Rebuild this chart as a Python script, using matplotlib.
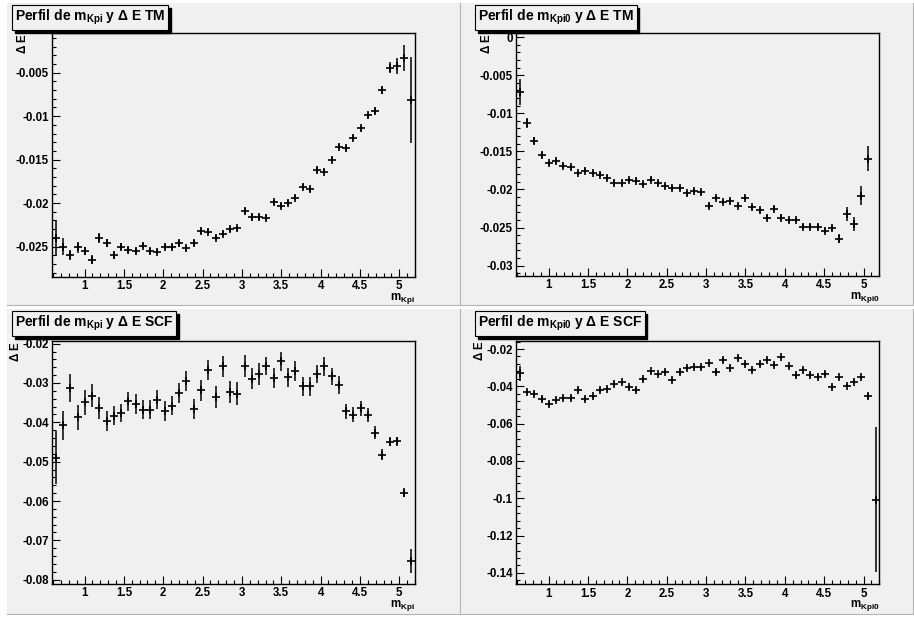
import numpy as np
import matplotlib
matplotlib.use("Agg")
import matplotlib.pyplot as plt
from matplotlib.patches import Rectangle
from matplotlib.ticker import MultipleLocator, FuncFormatter

plt.rcParams['font.family'] = 'Liberation Sans'
plt.rcParams['font.weight'] = 'bold'
plt.rcParams['mathtext.fontset'] = 'custom'
plt.rcParams['mathtext.rm'] = 'Liberation Sans:bold'
plt.rcParams['mathtext.it'] = 'Liberation Sans:bold'
plt.rcParams['mathtext.bf'] = 'Liberation Sans:bold'

# binning of the profiles (50 bins)
x_lo, x_hi, nbins = 0.59, 5.20, 50

# profile of DeltaE vs m_Kpi, truth-matched
tm_kpi = [-0.0240, -0.0250, -0.0260, -0.0251, -0.0255, -0.0265, -0.0240, -0.0246, -0.0260, -0.0250,
          -0.0254, -0.0255, -0.0249, -0.0255, -0.0256, -0.0250, -0.0250, -0.0246, -0.0252, -0.0246,
          -0.0232, -0.0233, -0.0240, -0.0235, -0.0230, -0.0229, -0.0209, -0.0216, -0.0216, -0.0217,
          -0.0199, -0.0203, -0.0200, -0.0194, -0.0181, -0.0184, -0.0162, -0.0164, -0.0150, -0.0135,
          -0.0137, -0.0125, -0.0114, -0.0099, -0.0094, -0.0070, -0.00443, -0.00423, -0.00335, -0.00814]
tm_kpi_err = [0.0021, 0.0010, 0.0006, 0.0006, 0.0005, 0.0005, 0.0006, 0.0005, 0.0004, 0.0004,
              0.0003, 0.0003, 0.0003, 0.0003, 0.0003, 0.0003, 0.0003, 0.0003, 0.0003, 0.0003,
              0.0003, 0.0003, 0.0003, 0.0003, 0.0003, 0.0003, 0.0003, 0.0003, 0.0003, 0.0003,
              0.0003, 0.0003, 0.0003, 0.0003, 0.0003, 0.0003, 0.0003, 0.0003, 0.0003, 0.0003,
              0.0003, 0.0003, 0.0003, 0.0003, 0.0003, 0.0004, 0.0006, 0.0009, 0.0015, 0.0049]

# profile of DeltaE vs m_Kpi0, truth-matched (last bin empty)
tm_kpi0 = [-0.00718, -0.0113, -0.01358, -0.01546, -0.01655, -0.01625, -0.01686, -0.01712, -0.01786, -0.01752,
           -0.01786, -0.01804, -0.01844, -0.0191, -0.0191, -0.01874, -0.01883, -0.01931, -0.0187, -0.01918,
           -0.01953, -0.0198, -0.0198, -0.0205, -0.0202, -0.02037, -0.02212, -0.02111, -0.02164, -0.02155,
           -0.02216, -0.02111, -0.02234, -0.02273, -0.0237, -0.02251, -0.0237, -0.0240, -0.0240, -0.02488,
           -0.02488, -0.02488, -0.0254, -0.0251, -0.02645, -0.02326, -0.02457, -0.0208, -0.01594, np.nan]
tm_kpi0_err = [0.0017, 0.0007, 0.0005, 0.0004, 0.0003, 0.0003, 0.0003, 0.0003, 0.0003, 0.0003,
               0.0003, 0.0003, 0.0003, 0.0003, 0.0003, 0.0003, 0.0003, 0.0003, 0.0003, 0.0003,
               0.0003, 0.0003, 0.0003, 0.0003, 0.0003, 0.0003, 0.0003, 0.0003, 0.0003, 0.0003,
               0.0003, 0.0003, 0.0003, 0.0003, 0.0003, 0.0003, 0.0003, 0.0003, 0.0003, 0.0003,
               0.0003, 0.0003, 0.0003, 0.0003, 0.0006, 0.0009, 0.0009, 0.0013, 0.0016, np.nan]

# profile of DeltaE vs m_Kpi, self-cross-feed
scf_kpi = [-0.0490, -0.0408, -0.0313, -0.0387, -0.0349, -0.0332, -0.0363, -0.0397, -0.0383, -0.0376,
           -0.0347, -0.0354, -0.0368, -0.0368, -0.0342, -0.0372, -0.0358, -0.0325, -0.0295, -0.0366,
           -0.0319, -0.0267, -0.0336, -0.0258, -0.0324, -0.0327, -0.0258, -0.0289, -0.0277, -0.0256,
           -0.0288, -0.0245, -0.0286, -0.0270, -0.0308, -0.0308, -0.0277, -0.0258, -0.0283, -0.0305,
           -0.0372, -0.0381, -0.0364, -0.0381, -0.0426, -0.0482, -0.0449, -0.0448, -0.0579, -0.0752]
scf_kpi_err = [0.0067, 0.0038, 0.0036, 0.0032, 0.0032, 0.0030, 0.0028, 0.0026, 0.0024, 0.0023,
               0.0023, 0.0025, 0.0024, 0.0024, 0.0024, 0.0025, 0.0024, 0.0025, 0.0026, 0.0025,
               0.0027, 0.0025, 0.0028, 0.0027, 0.0028, 0.0029, 0.0028, 0.0027, 0.0027, 0.0023,
               0.0025, 0.0025, 0.0025, 0.0025, 0.0024, 0.0024, 0.0024, 0.0023, 0.0022, 0.0022,
               0.0019, 0.0019, 0.0019, 0.0018, 0.0017, 0.0015, 0.0012, 0.0011, 0.0011, 0.0030]

# profile of DeltaE vs m_Kpi0, self-cross-feed
scf_kpi0 = [-0.0330, -0.0432, -0.0443, -0.0468, -0.0496, -0.0473, -0.0464, -0.0464, -0.0420, -0.0468,
            -0.0454, -0.0420, -0.0416, -0.0389, -0.0379, -0.0405, -0.0420, -0.0361, -0.0320, -0.0336,
            -0.0325, -0.0364, -0.0325, -0.0302, -0.0298, -0.0298, -0.0277, -0.0323, -0.0259, -0.0302,
            -0.0248, -0.0280, -0.0311, -0.0280, -0.0257, -0.0284, -0.0245, -0.0293, -0.0339, -0.0311,
            -0.0339, -0.0348, -0.0334, -0.0405, -0.0352, -0.0396, -0.0375, -0.0352, -0.0454, -0.1007]
scf_kpi0_err = [0.0040, 0.0010, 0.0010, 0.0010, 0.0010, 0.0010, 0.0010, 0.0010, 0.0010, 0.0010,
                0.0010, 0.0010, 0.0010, 0.0010, 0.0010, 0.0010, 0.0010, 0.0010, 0.0010, 0.0010,
                0.0010, 0.0010, 0.0010, 0.0010, 0.0010, 0.0010, 0.0010, 0.0010, 0.0010, 0.0010,
                0.0010, 0.0010, 0.0010, 0.0010, 0.0010, 0.0010, 0.0010, 0.0010, 0.0010, 0.0010,
                0.0010, 0.0010, 0.0010, 0.0010, 0.0010, 0.0010, 0.0010, 0.0010, 0.0015, 0.0390]

titles = [r'Perfil de m$_{\rm Kpi}$ y $\Delta$ E TM', r'Perfil de m$_{\rm Kpi0}$ y $\Delta$ E TM',
          r'Perfil de m$_{\rm Kpi}$ y $\Delta$ E SCF', r'Perfil de m$_{\rm Kpi0}$ y $\Delta$ E SCF']
xlabels = [r'm$_{\rm Kpi}$', r'm$_{\rm Kpi0}$', r'm$_{\rm Kpi}$', r'm$_{\rm Kpi0}$']
ylabel = r'$\Delta$ E'

W, H = 914, 618
fig = plt.figure(figsize=(W / 100, H / 100), dpi=100, facecolor='white')

def px(x0, y0, x1, y1):
    # pixel box (from top-left) -> figure fraction [left, bottom, width, height]
    return [x0 / W, 1 - y1 / H, (x1 - x0) / W, (y1 - y0) / H]

pad_boxes = [(7, 3, 460, 305), (461, 3, 913, 305), (7, 309, 460, 614), (461, 309, 913, 614)]
frame_boxes = [(52.3, 33, 415, 277), (516.3, 33, 879.3, 276),
               (52.3, 341.3, 415, 584), (516.3, 340.7, 879.3, 584.3)]
title_pos = [(15, 8), (478, 8), (15, 314), (478, 314)]
ylims = [(-0.0285, -0.00044), (-0.03136, 0.00053), (-0.0811, -0.0194), (-0.1461, -0.01554)]
ymajor = [0.005, 0.005, 0.01, 0.02]
yminor = [0.001, 0.001, 0.002, 0.004]
ylabel_dx = [-30, -30, -37, -37]

series = [(tm_kpi, tm_kpi_err), (tm_kpi0, tm_kpi0_err), (scf_kpi, scf_kpi_err), (scf_kpi0, scf_kpi0_err)]

edges = np.linspace(x_lo, x_hi, nbins + 1)
centers = 0.5 * (edges[:-1] + edges[1:])

def fmt(v, p):
    if abs(v) < 1e-12:
        return '0'
    return '%g' % round(v, 6)

title_texts = []
for i in range(4):
    x0, y0, x1, y1 = pad_boxes[i]
    b = px(x0, y0, x1, y1)
    fig.patches.append(Rectangle((b[0], b[1]), b[2], b[3], transform=fig.transFigure,
                                 facecolor='#f0f0f0', edgecolor='none', zorder=-5))
    # darker bevel on right and bottom
    fig.lines.append(plt.Line2D([b[0], b[0] + b[2], b[0] + b[2]], [b[1], b[1], b[1] + b[3]],
                                transform=fig.transFigure, color='#b4b4b4', lw=0.8))

    ax = fig.add_axes(px(*frame_boxes[i]))
    ax.set_facecolor('#f0f0f0')
    y, yerr = series[i]
    ax.errorbar(centers, y, yerr=yerr, fmt='+', color='black', ms=5.6, mew=1.2,
                elinewidth=1.1, capsize=0)
    ax.set_xlim(x_lo, x_hi)
    ax.set_ylim(*ylims[i])
    ax.xaxis.set_major_locator(MultipleLocator(0.5))
    ax.xaxis.set_minor_locator(MultipleLocator(0.1))
    ax.yaxis.set_major_locator(MultipleLocator(ymajor[i]))
    ax.yaxis.set_minor_locator(MultipleLocator(yminor[i]))
    ax.xaxis.set_major_formatter(FuncFormatter(fmt))
    ax.yaxis.set_major_formatter(FuncFormatter(fmt))
    ax.tick_params(which='both', direction='in', top=False, right=False, width=0.8)
    ax.tick_params(which='major', length=5.8, labelsize=8.3, pad=2.5)
    ax.tick_params(which='minor', length=2.9)
    for s in ax.spines.values():
        s.set_linewidth(1.0)

    ax.annotate(ylabel, xy=(0, 1), xycoords='axes fraction', xytext=(ylabel_dx[i], 0),
                textcoords='offset pixels', rotation=90, ha='center', va='top', fontsize=8.3)
    ax.annotate(xlabels[i], xy=(1, 0), xycoords='axes fraction', xytext=(0, -14),
                textcoords='offset pixels', ha='right', va='top', fontsize=8.3)

    tx, ty = title_pos[i]
    t = fig.text(tx / W, 1 - ty / H, titles[i], fontsize=10, color='black',
                 ha='left', va='top', zorder=3,
                 bbox=dict(boxstyle='square,pad=0.2', fc='#f0f0f0', ec='black', lw=0.8))
    title_texts.append(t)

# drop shadow behind each title box (ROOT style)
fig.canvas.draw()
inv = fig.transFigure.inverted()
for t in title_texts:
    bb = t.get_bbox_patch().get_window_extent()
    (fx0, fy0), (fx1, fy1) = inv.transform([(bb.x0 + 2.5, bb.y0 - 2.5), (bb.x1 + 2.5, bb.y1 - 2.5)])
    fig.patches.append(Rectangle((fx0, fy0), fx1 - fx0, fy1 - fy0, transform=fig.transFigure,
                                 facecolor='black', edgecolor='black', zorder=2))

fig.savefig('out.png', dpi=100, facecolor=fig.get_facecolor())
